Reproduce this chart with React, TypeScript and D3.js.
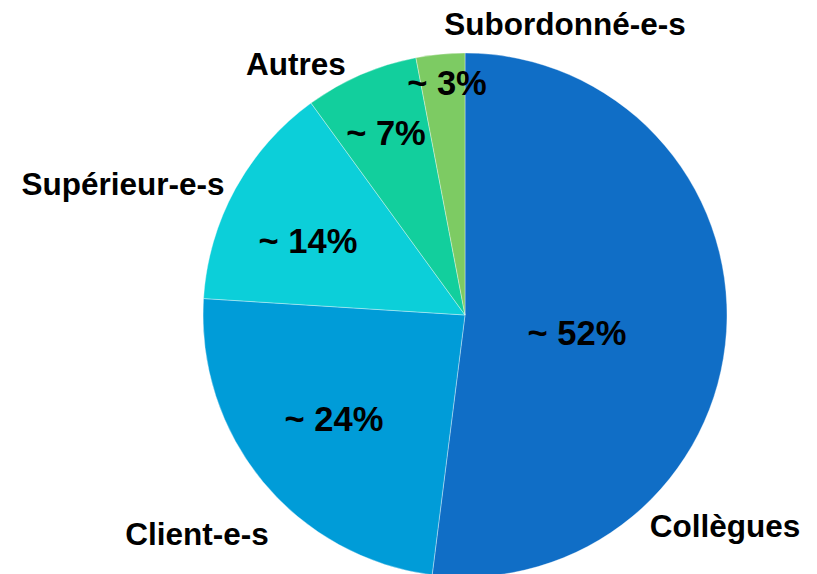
import React from "react";
import * as d3 from "d3";

const categories = ["Collègues", "Client-e-s", "Supérieur-e-s", "Autres", "Subordonné-e-s"];
const values = [52, 24, 14, 7, 3];
const colors = ["#106EC6", "#009CD8", "#0CCFD9", "#12CF9D", "#7DCB63"];
// label layout offsets relative to pie centre (baseline)
const pctOffsets: [number, number][] = [[112, 30], [-131, 116], [-157, -62], [-79, -170], [-18, -220]];
const catOffsets: [number, number][] = [[260, 222], [-268, 230], [-342, -120], [-169, -240], [100, -280]];

const W = 817, H = 574;
const cx = 465, cy = 315, R = 262;

export default function App() {
  const pie = d3.pie<number>().sort(null).value((d) => d).startAngle(0).endAngle(2 * Math.PI);
  const arcs = pie(values);
  const arc = d3.arc<d3.PieArcDatum<number>>().innerRadius(0).outerRadius(R);
  const font = "'Liberation Sans', Arial, Helvetica, sans-serif";
  return (
    <svg width={W} height={H} style={{ position: "absolute", left: 0, top: 0, background: "#fff" }}>
      <g transform={`translate(${cx},${cy})`}>
        {arcs.map((a, i) => (
          <path key={i} d={arc(a) || ""} fill={colors[i]} stroke="#ffffff" strokeWidth={0.6} strokeOpacity={0.6} />
        ))}
        {arcs.map((a, i) => (
          <text key={"p" + i} x={pctOffsets[i][0]} y={pctOffsets[i][1]} textAnchor="middle"
            fontFamily={font} fontWeight="bold" fontSize={34.5} fill="#000">
            {"~ " + values[i] + "%"}
          </text>
        ))}
        {categories.map((c, i) => (
          <text key={"c" + i} x={catOffsets[i][0]} y={catOffsets[i][1]} textAnchor="middle"
            fontFamily={font} fontWeight="bold" fontSize={31.5} fill="#000">
            {c}
          </text>
        ))}
      </g>
    </svg>
  );
}
